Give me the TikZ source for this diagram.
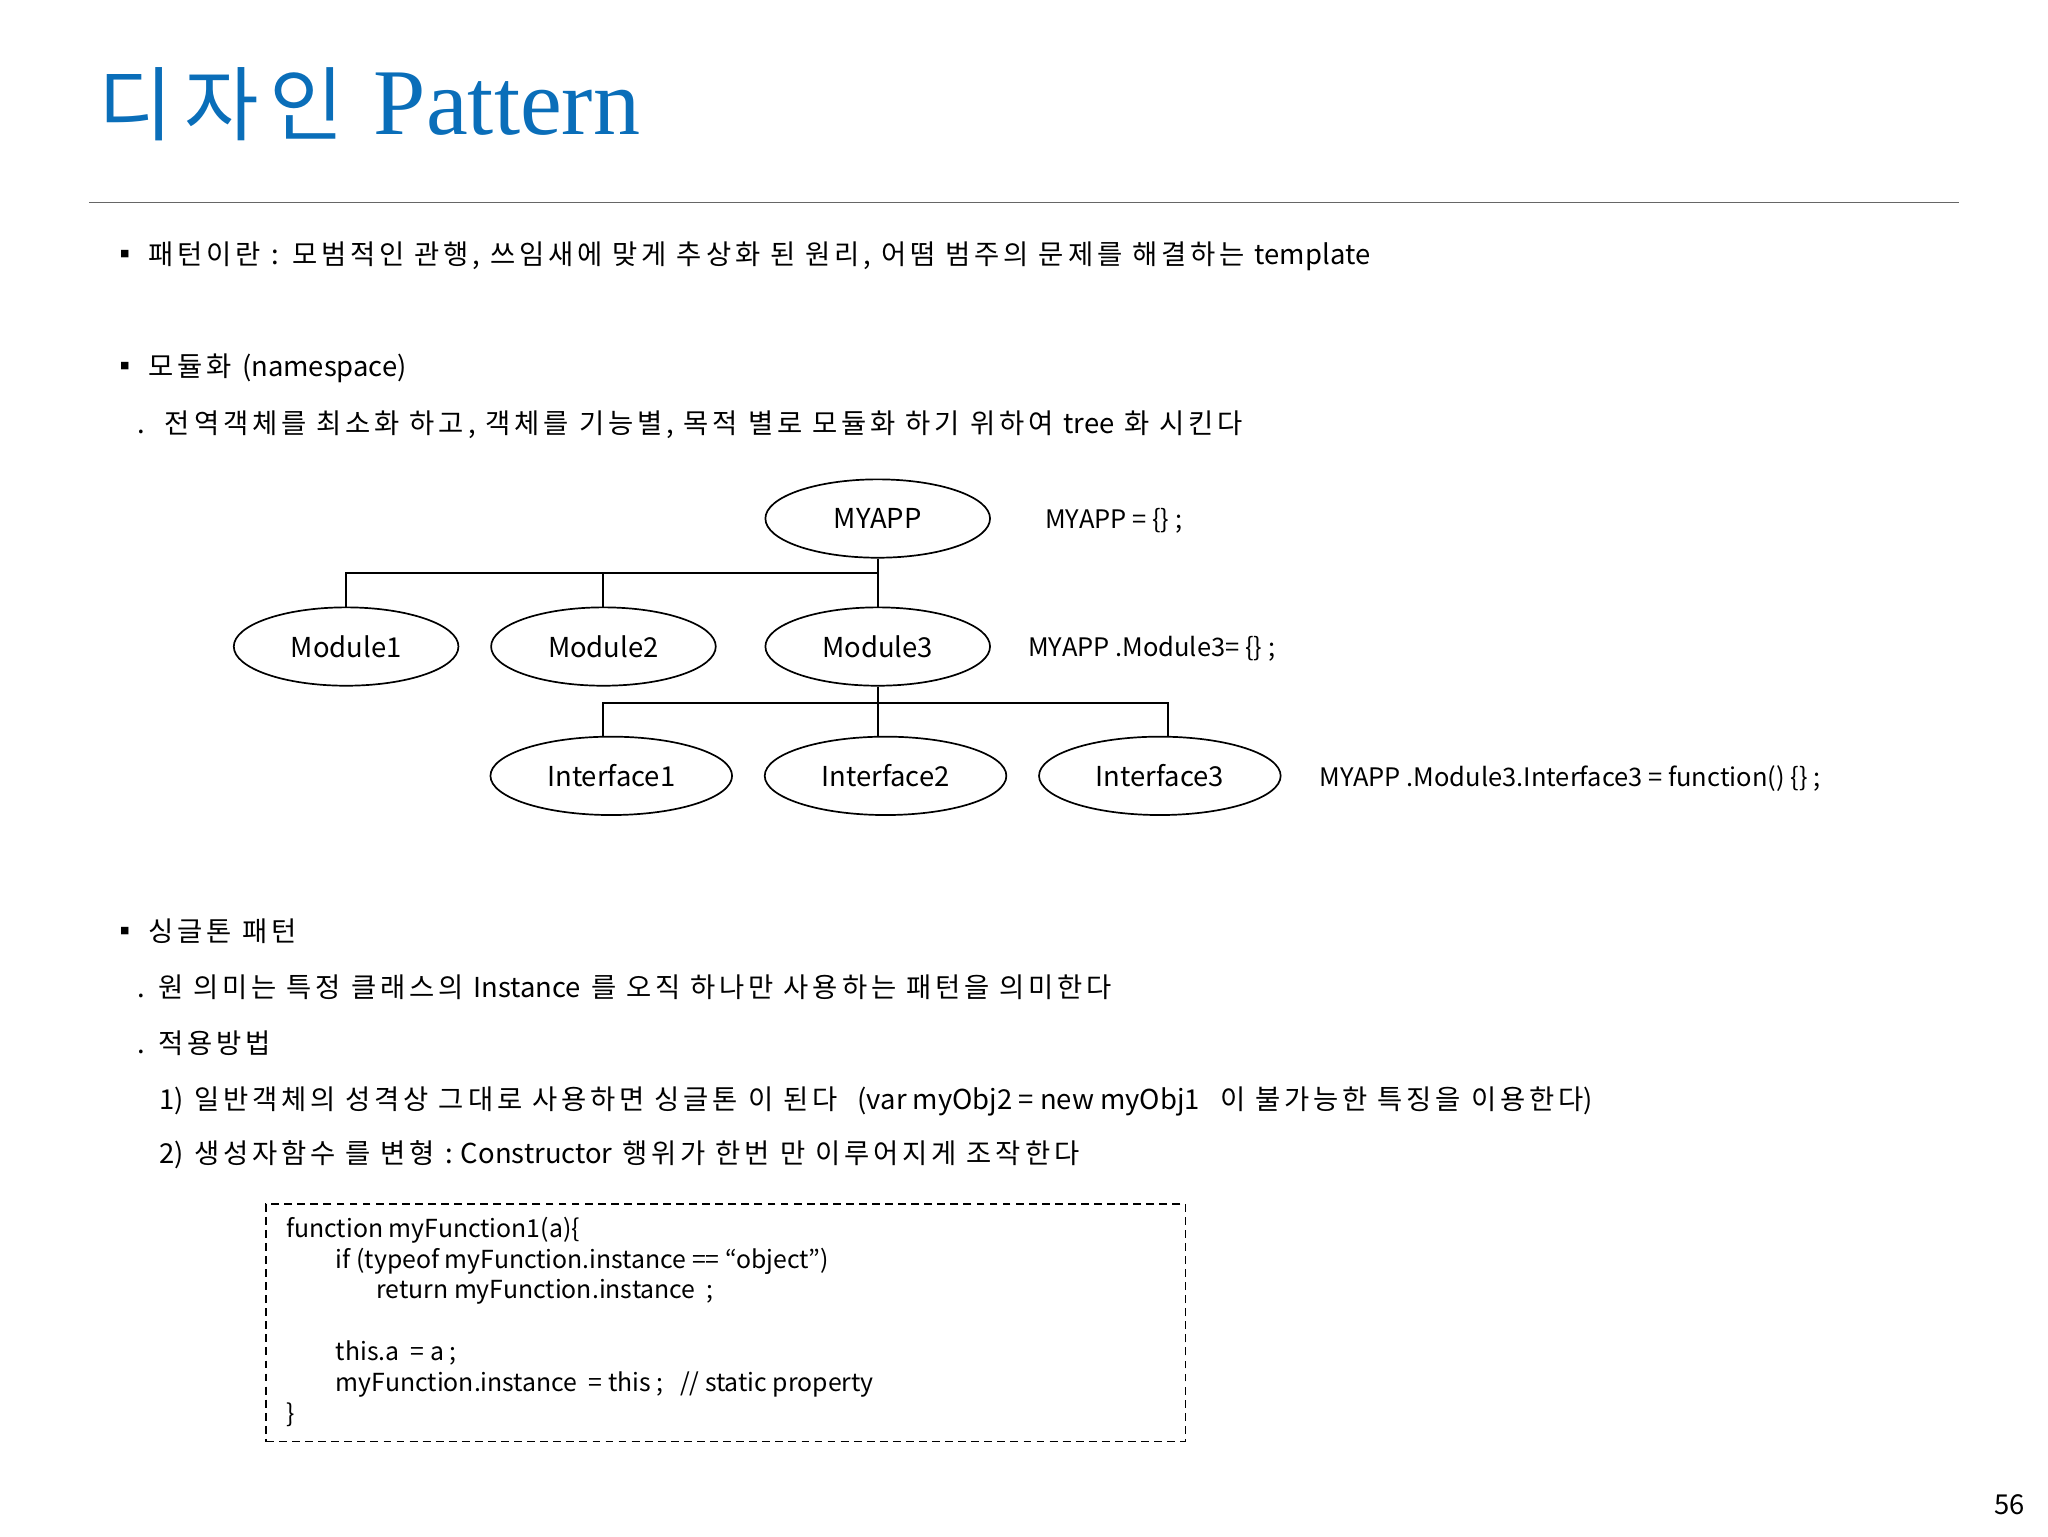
\documentclass[tikz,border=0pt]{standalone}
\usepackage{fontspec}
\usetikzlibrary{shapes.geometric}
\setmainfont[LetterSpace=14]{Noto Sans CJK KR}
\newfontfamily\lat{Noto Sans CJK KR}
\newfontfamily\titlefont{Liberation Serif}
\definecolor{titleblue}{RGB}{10,110,185}
\begin{document}
\begin{tikzpicture}[x=1pt,y=-1pt,
  txt/.style={anchor=west,inner sep=0pt,font=\fontsize{21}{24}\selectfont},
  code/.style={anchor=west,inner sep=0pt,font=\lat\fontsize{19}{21}\selectfont},
  ell/.style={draw,line width=1.3pt,ellipse,minimum width=172pt,minimum height=60pt,inner sep=0pt,font=\lat\fontsize{21}{24}\selectfont},
  iell/.style={ell,minimum width=185pt},
  tree/.style={line width=1.6pt}]
\useasboundingbox (0,0) rectangle (1568,1176);
\node[anchor=base west,inner sep=0pt,text=titleblue,font=\fontsize{62}{66}\selectfont] (title) at (75,103) {디자인 {\titlefont\fontsize{72}{76}\selectfont Pattern}};
\draw[gray!80!black,line width=1.2pt] (68,155) -- (1500,155);
\node[txt] (b1) at (85,196) {▪ 패턴이란 {\lat :} 모범적인 관행, 쓰임새에 맞게 추상화 된 원리, 어떰 범주의 문제를 해결하는 {\lat template}};
\node[txt] (b2) at (85,282) {▪ 모듈화 {\lat (namespace)}};
\node[txt] (b2a) at (105,325) {.\ \ 전역객체를 최소화 하고, 객체를 기능별, 목적 별로 모듈화 하기 위하여 {\lat tree} 화 시킨다};
\node[ell] (app) at (672,397) {MYAPP};
\node[ell] (m1) at (265,495) {Module1};
\node[ell] (m2) at (462,495) {Module2};
\node[ell] (m3) at (672,495) {Module3};
\node[iell] (i1) at (468,594) {Interface1};
\node[iell] (i2) at (678,594) {Interface2};
\node[iell] (i3) at (888,594) {Interface3};
\coordinate (j1) at (672,439);
\coordinate (j2) at (672,538);
\draw[tree] (app.south) -- (j1);
\draw[tree] (j1) -| (m1.north);
\draw[tree] (j1) -| (m2.north);
\draw[tree] (j1) -- (m3.north);
\draw[tree] (m3.south) -- (j2);
\draw[tree] (j2) -| ([xshift=-6pt]i1.north);
\draw[tree] (j2) -- ([xshift=-6pt]i2.north);
\draw[tree] (j2) -| ([xshift=6pt]i3.north);
\node[code,font=\lat\fontsize{19.5}{22}\selectfont] (l1) at (800,399) {MYAPP = \{\} ;};
\node[code,font=\lat\fontsize{19.5}{22}\selectfont] (l2) at (787,497) {MYAPP .Module3= \{\} ;};
\node[code,font=\lat\fontsize{19.5}{22}\selectfont] (l3) at (1010,596) {MYAPP .Module3.Interface3 = function() \{\} ;};
\node[txt] (b3) at (85,713) {▪ 싱글톤 패턴};
\node[txt] (b3a) at (105,756) {. 원 의미는 특정 클래스의 {\lat Instance} 를 오직 하나만 사용하는 패턴을 의미한다};
\node[txt] (b3b) at (105,799) {. 적용방법};
\node[txt] (b3c) at (122,843) {{\lat 1)} 일반객체의 성격상 그대로 사용하면 싱글톤 이 된다 \ {\lat (var myObj2 = new myObj1} \ 이 불가능한 특징을 이용한다{\lat )}};
\node[txt] (b3d) at (122,884) {{\lat 2)} 생성자함수 를 변형 {\lat : Constructor} 행위가 한번 만 이루어지게 조작한다};
\node[draw,dash pattern=on 6pt off 4pt,line width=1.3pt,minimum width=704pt,minimum height=182pt,anchor=north west] (box) at (203,921) {};
\node[code] (c1) at (219,942) {function myFunction1(a)\{};
\node[code] (c2) at (257,966) {if (typeof myFunction.instance == “object”)};
\node[code] (c3) at (288,989) {return myFunction.instance \ ;};
\node[code] (c4) at (257,1036) {this.a \ = a ;};
\node[code] (c5) at (257,1060) {myFunction.instance \ = this ; \ \ // static property};
\node[code] (c6) at (219,1083) {\}};
\node[txt,font=\lat\fontsize{21}{24}\selectfont] (pg) at (1527,1152) {56};
\end{tikzpicture}
\end{document}
